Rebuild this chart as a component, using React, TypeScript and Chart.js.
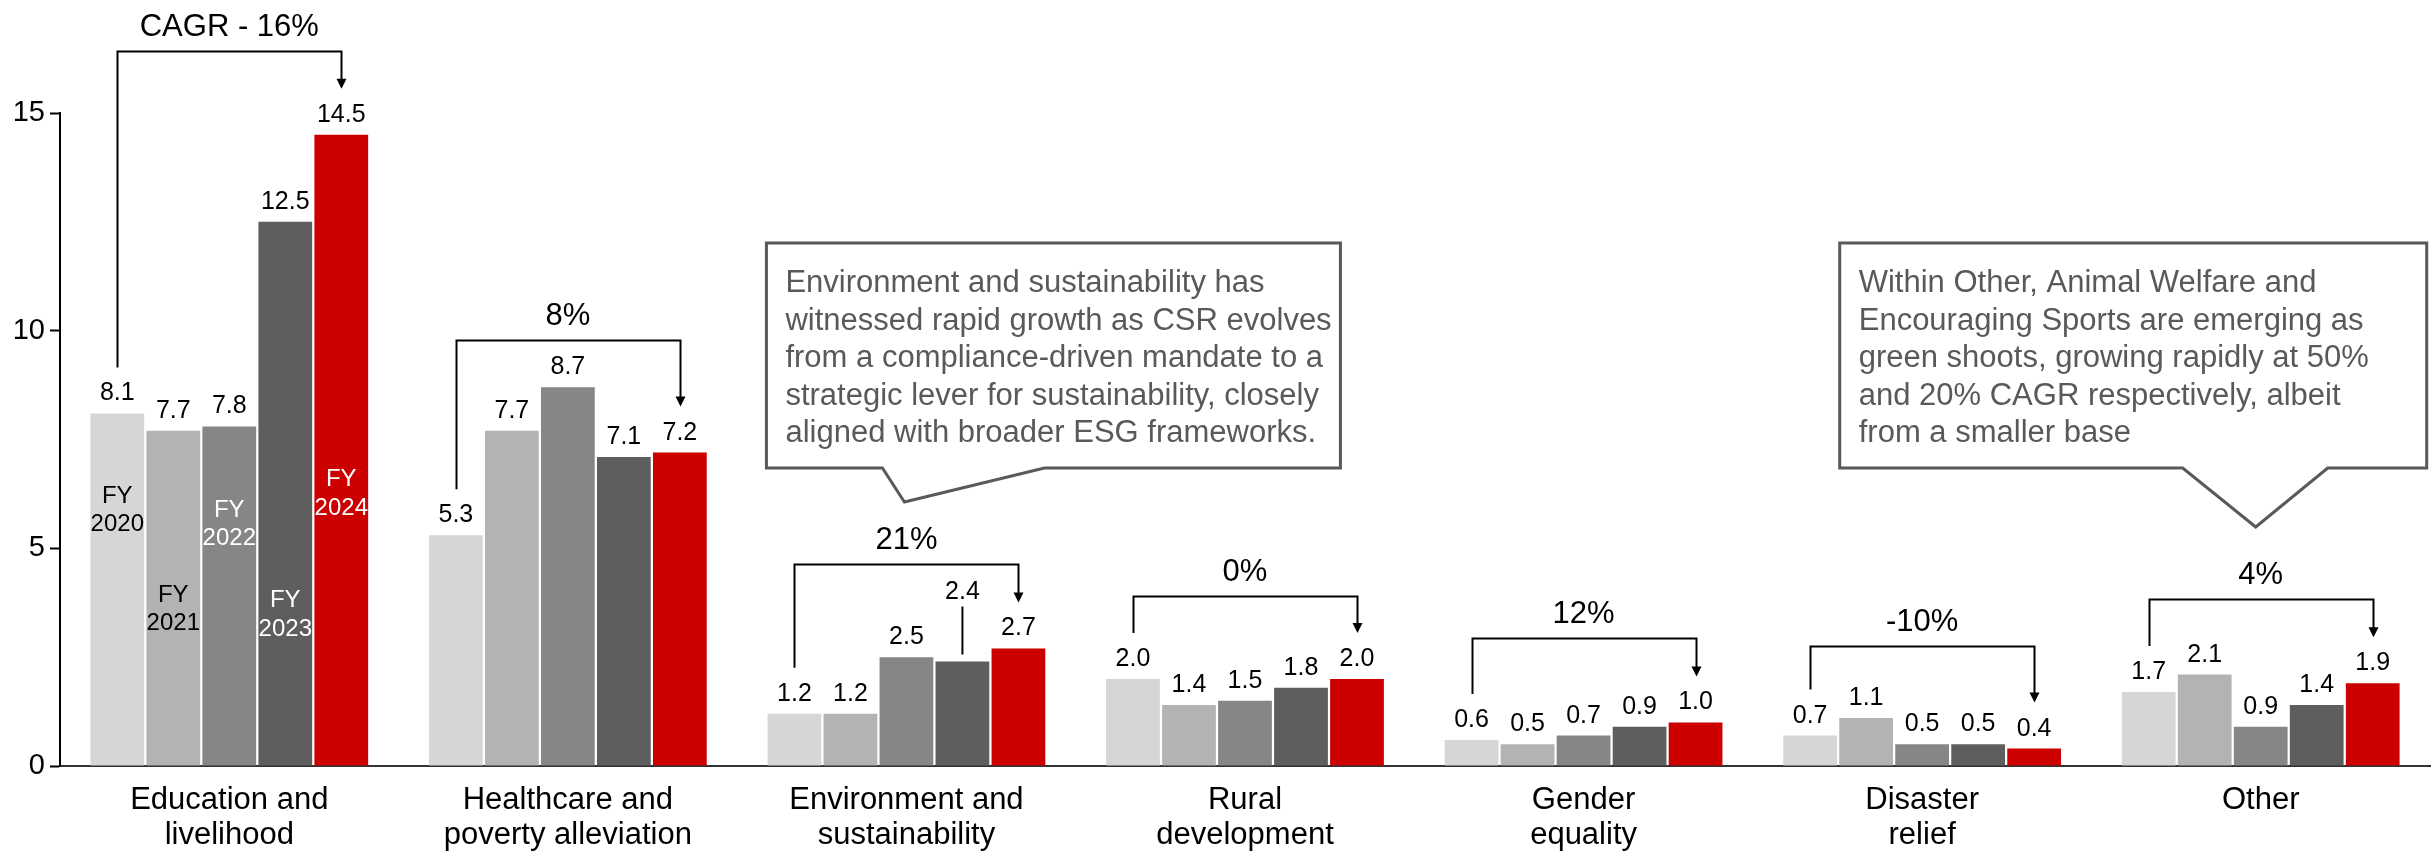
import React, { useEffect, useRef } from 'react';
import { Chart, registerables } from 'chart.js';

Chart.register(...registerables);

// ---- data ----
const categories: string[][] = [
  ['Education and', 'livelihood'],
  ['Healthcare and', 'poverty alleviation'],
  ['Environment and', 'sustainability'],
  ['Rural', 'development'],
  ['Gender', 'equality'],
  ['Disaster', 'relief'],
  ['Other'],
];
const years = ['FY 2020', 'FY 2021', 'FY 2022', 'FY 2023', 'FY 2024'];
const fy2020 = [8.1, 5.3, 1.2, 2.0, 0.6, 0.7, 1.7];
const fy2021 = [7.7, 7.7, 1.2, 1.4, 0.5, 1.1, 2.1];
const fy2022 = [7.8, 8.7, 2.5, 1.5, 0.7, 0.5, 0.9];
const fy2023 = [12.5, 7.1, 2.4, 1.8, 0.9, 0.5, 1.4];
const fy2024 = [14.5, 7.2, 2.7, 2.0, 1.0, 0.4, 1.9];
const growthLabels = ['CAGR - 16%', '8%', '21%', '0%', '12%', '-10%', '4%'];
const yTicks = [0, 5, 10, 15];

const calloutEnvironment = [
  'Environment and sustainability has',
  'witnessed rapid growth as CSR evolves',
  'from a compliance-driven mandate to a',
  'strategic lever for sustainability, closely',
  'aligned with broader ESG frameworks.',
];
const calloutOther = [
  'Within Other, Animal Welfare and',
  'Encouraging Sports are emerging as',
  'green shoots, growing rapidly at 50%',
  'and 20% CAGR respectively, albeit',
  'from a smaller base',
];

// ---- styling / annotation layout ----
const FONT = "'Liberation Sans', Arial, Helvetica, sans-serif";
const barColors = ['#D6D6D6', '#B3B3B3', '#868686', '#5E5E5E', '#CC0000'];
const yearTagColors = ['#000000', '#000000', '#FFFFFF', '#FFFFFF', '#FFFFFF'];
// height (in axis units) of the first line of each year tag inside the first group
const yearTagLevels = [6.05, 3.77, 5.72, 3.65, 6.43];
// height (in axis units) of the horizontal part of each growth bracket
const bracketLevels = [16.43, 9.79, 4.63, 3.9, 2.95, 2.76, 3.83];
// value label that is lifted with a leader line (FY 2023, Environment)
const liftedLabel = { dataset: 3, index: 2, lift: 50 };

type Callout = {
  anchor: number;
  left: number;
  right: number;
  top: number;
  bottom: number;
  baseL: number;
  baseR: number;
  tipDx: number;
  tipY: number;
  lines: string[];
};
const callouts: Callout[] = [
  { anchor: 2, left: -140, right: 434, top: 243, bottom: 468, baseL: -24, baseR: 138, tipDx: -2, tipY: 502, lines: calloutEnvironment },
  { anchor: 6, left: -421, right: 166, top: 243, bottom: 468, baseL: -78, baseR: 67, tipDx: -5, tipY: 527, lines: calloutOther },
];

const annotations = {
  id: 'annotations',
  afterDatasetsDraw(chart: any) {
    const ctx: CanvasRenderingContext2D = chart.ctx;
    const yScale = chart.scales.y;
    const metas = chart.data.datasets.map((_: any, i: number) => chart.getDatasetMeta(i));
    ctx.save();

    // value labels above bars
    ctx.font = `25px ${FONT}`;
    ctx.textAlign = 'center';
    ctx.textBaseline = 'alphabetic';
    ctx.fillStyle = '#000';
    ctx.strokeStyle = '#000';
    ctx.lineWidth = 2;
    metas.forEach((meta: any, di: number) => {
      meta.data.forEach((bar: any, ci: number) => {
        const v = chart.data.datasets[di].data[ci] as number;
        const lifted = di === liftedLabel.dataset && ci === liftedLabel.index;
        const base = bar.y - 13 - (lifted ? liftedLabel.lift : 0);
        ctx.fillText(v.toFixed(1), bar.x, base);
        if (lifted) {
          ctx.beginPath();
          ctx.moveTo(bar.x, base + 8);
          ctx.lineTo(bar.x, bar.y - 7);
          ctx.stroke();
        }
      });
    });

    // year tags inside the first group
    ctx.font = `24px ${FONT}`;
    metas.forEach((meta: any, di: number) => {
      const bar = meta.data[0];
      const [a, b] = years[di].split(' ');
      const y0 = yScale.getPixelForValue(yearTagLevels[di]);
      ctx.fillStyle = yearTagColors[di];
      ctx.fillText(a, bar.x, y0);
      ctx.fillText(b, bar.x, y0 + 28.5);
    });

    // growth brackets
    ctx.fillStyle = '#000';
    ctx.strokeStyle = '#000';
    ctx.lineWidth = 2;
    ctx.font = `31px ${FONT}`;
    growthLabels.forEach((label, ci) => {
      const first = metas[0].data[ci];
      const last = metas[metas.length - 1].data[ci];
      const yl = Math.round(yScale.getPixelForValue(bracketLevels[ci])) + 0.5;
      const x1 = Math.round(first.x) + 0.5;
      const x2 = Math.round(last.x) + 0.5;
      const leftEnd = first.y - 46;
      const tip = last.y - 46;
      ctx.beginPath();
      ctx.moveTo(x1, leftEnd);
      ctx.lineTo(x1, yl);
      ctx.lineTo(x2, yl);
      ctx.lineTo(x2, tip - 8);
      ctx.stroke();
      ctx.beginPath();
      ctx.moveTo(x2 - 5, tip - 10);
      ctx.lineTo(x2 + 5, tip - 10);
      ctx.lineTo(x2, tip);
      ctx.closePath();
      ctx.fill();
      ctx.fillText(label, (first.x + last.x) / 2, yl - 16);
    });

    // callouts
    const xScale = chart.scales.x;
    callouts.forEach((c) => {
      const cx = xScale.getPixelForValue(c.anchor);
      const L = cx + c.left;
      const R = cx + c.right;
      ctx.beginPath();
      ctx.moveTo(L, c.top);
      ctx.lineTo(R, c.top);
      ctx.lineTo(R, c.bottom);
      ctx.lineTo(cx + c.baseR, c.bottom);
      ctx.lineTo(cx + c.tipDx, c.tipY);
      ctx.lineTo(cx + c.baseL, c.bottom);
      ctx.lineTo(L, c.bottom);
      ctx.closePath();
      ctx.fillStyle = '#FFFFFF';
      ctx.fill();
      ctx.lineWidth = 3;
      ctx.lineJoin = 'miter';
      ctx.strokeStyle = '#595959';
      ctx.stroke();
      ctx.fillStyle = '#595959';
      ctx.font = `31px ${FONT}`;
      ctx.textAlign = 'left';
      c.lines.forEach((line, i) => {
        ctx.fillText(line, L + 19, c.top + 49 + i * 37.5);
      });
      ctx.textAlign = 'center';
    });

    ctx.restore();
  },
};

export default function App() {
  const canvasRef = useRef<HTMLCanvasElement | null>(null);

  useEffect(() => {
    if (!canvasRef.current) return;
    const series = [fy2020, fy2021, fy2022, fy2023, fy2024];
    const chart = new Chart(canvasRef.current, {
      type: 'bar',
      data: {
        labels: categories,
        datasets: series.map((values, i) => ({
          label: years[i],
          data: values,
          backgroundColor: barColors[i],
          borderWidth: 0,
          barPercentage: 0.96,
          categoryPercentage: 0.827,
        })),
      },
      options: {
        animation: false,
        responsive: true,
        maintainAspectRatio: false,
        layout: { padding: { top: 113, right: 5, left: 0, bottom: 0 } },
        plugins: {
          legend: { display: false },
          tooltip: { enabled: false },
        },
        scales: {
          x: {
            grid: { display: true, drawOnChartArea: false, drawTicks: false },
            border: { display: true, color: '#333333', width: 2 },
            ticks: {
              color: '#000',
              font: { family: FONT, size: 31, lineHeight: 1.12 },
              padding: 17,
              maxRotation: 0,
              autoSkip: false,
            },
            afterFit: (scale: any) => {
              scale.height = 91;
            },
          },
          y: {
            min: 0,
            max: 15,
            grid: {
              display: true,
              drawOnChartArea: false,
              drawTicks: true,
              tickLength: 10,
              tickColor: '#000',
              tickWidth: 2,
            },
            border: { display: true, color: '#000', width: 2 },
            ticks: {
              color: '#000',
              font: { family: FONT, size: 29 },
              padding: 5,
            },
            afterBuildTicks: (scale: any) => {
              scale.ticks = yTicks.map((v) => ({ value: v }));
            },
            afterFit: (scale: any) => {
              scale.width = 60;
            },
          },
        },
      },
      plugins: [annotations],
    });
    return () => chart.destroy();
  }, []);

  return (
    <div
      style={{
        position: 'fixed',
        left: 0,
        top: 0,
        width: '2435px',
        height: '857px',
        background: '#FFFFFF',
      }}
    >
      <canvas ref={canvasRef} />
    </div>
  );
}
